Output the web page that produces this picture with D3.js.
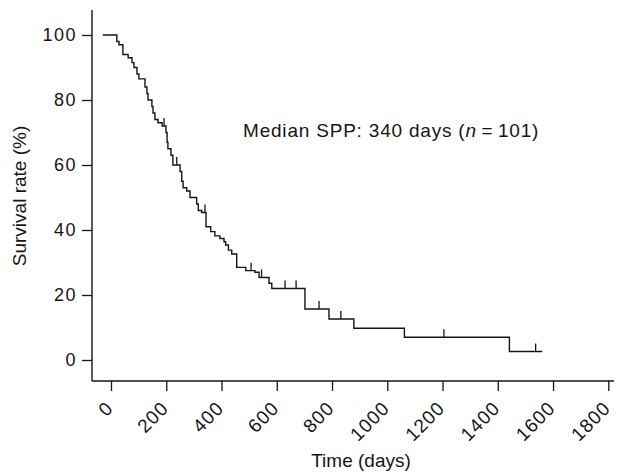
<!DOCTYPE html>
<html>
<head>
<meta charset="utf-8">
<script src="https://cdn.jsdelivr.net/npm/d3@7"></script>
<style>
  body { margin: 0; background: #fff; }
  text { font-family: "Liberation Sans", Arial, sans-serif; fill: #151515; }
</style>
</head>
<body>
<div id="chart"></div>
<script>
// Kaplan-Meier steps (days, % surviving after the drop)
var stepTimes = [-30, 21, 29, 43, 62, 76, 83, 94, 101, 123, 130, 134, 148, 152, 159, 170, 185,
  199, 203, 206, 217, 224, 250, 256, 261, 274, 286, 310, 316, 328, 344, 361, 376, 394,
  409, 415, 425, 437, 455, 488, 521, 536, 572, 582, 702, 789, 879, 1062, 1442, 1561];
var stepSurvival = [100, 98, 97, 94, 93, 91.5, 90, 88, 86.5, 84, 82, 80, 78, 76, 74, 73, 72,
  70, 67, 65, 63, 60, 58, 55, 53, 52, 50, 48, 46, 45.4, 41, 39.5, 38.2, 37.4,
  36.4, 35.4, 33.8, 32.6, 28.5, 27.5, 27, 25.4, 23.6, 22, 15.7, 12.6, 9.75, 7, 2.6, 2.6];
// censored observations (tick marks)
var censorTimes = [192, 238, 340, 507, 545, 630, 670, 753, 832, 1205, 1537];

var xMajor = [0, 200, 400, 600, 800, 1000, 1200, 1400, 1600, 1800];
var xMinor = [100, 300, 500, 700, 900, 1100, 1300, 1500, 1700];
var yMajor = [0, 20, 40, 60, 80, 100];
var yMinor = [10, 30, 50, 70, 90];

var width = 625, height = 472;
var axisX = 92, axisY = 381;

var svg = d3.select('#chart').append('svg')
    .attr('width', width)
    .attr('height', height);

var x = d3.scaleLinear().domain([0, 1800]).range([111, 608.3]);
var y = d3.scaleLinear().domain([0, 100]).range([360, 35]);

// frame lines
svg.append('line')
    .attr('x1', axisX).attr('x2', axisX)
    .attr('y1', 10).attr('y2', axisY)
    .attr('stroke', '#151515').attr('stroke-width', 1.4);
svg.append('line')
    .attr('x1', axisX).attr('x2', 614)
    .attr('y1', axisY).attr('y2', axisY)
    .attr('stroke', '#151515').attr('stroke-width', 1.4);

// x axis ticks
var gx = svg.append('g').attr('transform', 'translate(0,' + axisY + ')');
gx.call(d3.axisBottom(x).tickValues(xMinor).tickSize(5).tickFormat(''));
gx.call(d3.axisBottom(x).tickValues(xMajor).tickSize(10).tickFormat(''));
gx.selectAll('.domain').remove();
gx.selectAll('.tick line').attr('stroke', '#151515').attr('stroke-width', 1.3);

svg.append('g').selectAll('text')
    .data(xMajor)
    .enter().append('text')
    .attr('transform', function (d) {
        return 'translate(' + (x(d) - 6) + ',' + 400 + ') rotate(-45)';
    })
    .attr('text-anchor', 'end')
    .attr('dy', '0.7em')
    .style('font-size', '19px')
    .style('letter-spacing', '1px')
    .text(function (d) { return d; });

// y axis ticks
var gy = svg.append('g').attr('transform', 'translate(' + axisX + ',0)');
gy.call(d3.axisLeft(y).tickValues(yMinor).tickSize(5).tickFormat(''));
gy.call(d3.axisLeft(y).tickValues(yMajor).tickSize(10).tickFormat(''));
gy.selectAll('.domain').remove();
gy.selectAll('.tick line').attr('stroke', '#151515').attr('stroke-width', 1.3);

svg.append('g').selectAll('text')
    .data(yMajor)
    .enter().append('text')
    .attr('x', 77)
    .attr('y', function (d) { return y(d); })
    .attr('dy', '0.36em')
    .attr('text-anchor', 'end')
    .style('font-size', '18px')
    .style('letter-spacing', '1.5px')
    .text(function (d) { return d; });

// axis titles
svg.append('text')
    .attr('transform', 'translate(26,196) rotate(-90)')
    .attr('text-anchor', 'middle')
    .style('font-size', '19px')
    .text('Survival rate (%)');

svg.append('text')
    .attr('x', 361)
    .attr('y', 467)
    .attr('text-anchor', 'middle')
    .style('font-size', '19px')
    .text('Time (days)');

// survival curve
var pts = stepTimes.map(function (t, i) { return [t, stepSurvival[i]]; });
var line = d3.line()
    .x(function (d) { return x(d[0]); })
    .y(function (d) { return y(d[1]); })
    .curve(d3.curveStepAfter);

svg.append('path')
    .datum(pts)
    .attr('d', line)
    .attr('fill', 'none')
    .attr('stroke', '#151515')
    .attr('stroke-width', 1.4);

function survAt(t) {
    var s = 100;
    for (var i = 0; i < stepTimes.length; i++) {
        if (stepTimes[i] <= t) s = stepSurvival[i];
    }
    return s;
}

svg.append('g').selectAll('line')
    .data(censorTimes)
    .enter().append('line')
    .attr('x1', function (d) { return x(d); })
    .attr('x2', function (d) { return x(d); })
    .attr('y1', function (d) { return y(survAt(d)); })
    .attr('y2', function (d) { return y(survAt(d)) - 8; })
    .attr('stroke', '#151515')
    .attr('stroke-width', 1.3);

// annotation
var note = svg.append('text')
    .attr('x', 243)
    .attr('y', 137)
    .style('font-size', '19px')
    .style('letter-spacing', '0.8px');
note.append('tspan').text('Median SPP: 340 days (');
note.append('tspan').style('font-style', 'italic').text('n');
note.append('tspan').text('\u2009=\u2009101)');
</script>
</body>
</html>
